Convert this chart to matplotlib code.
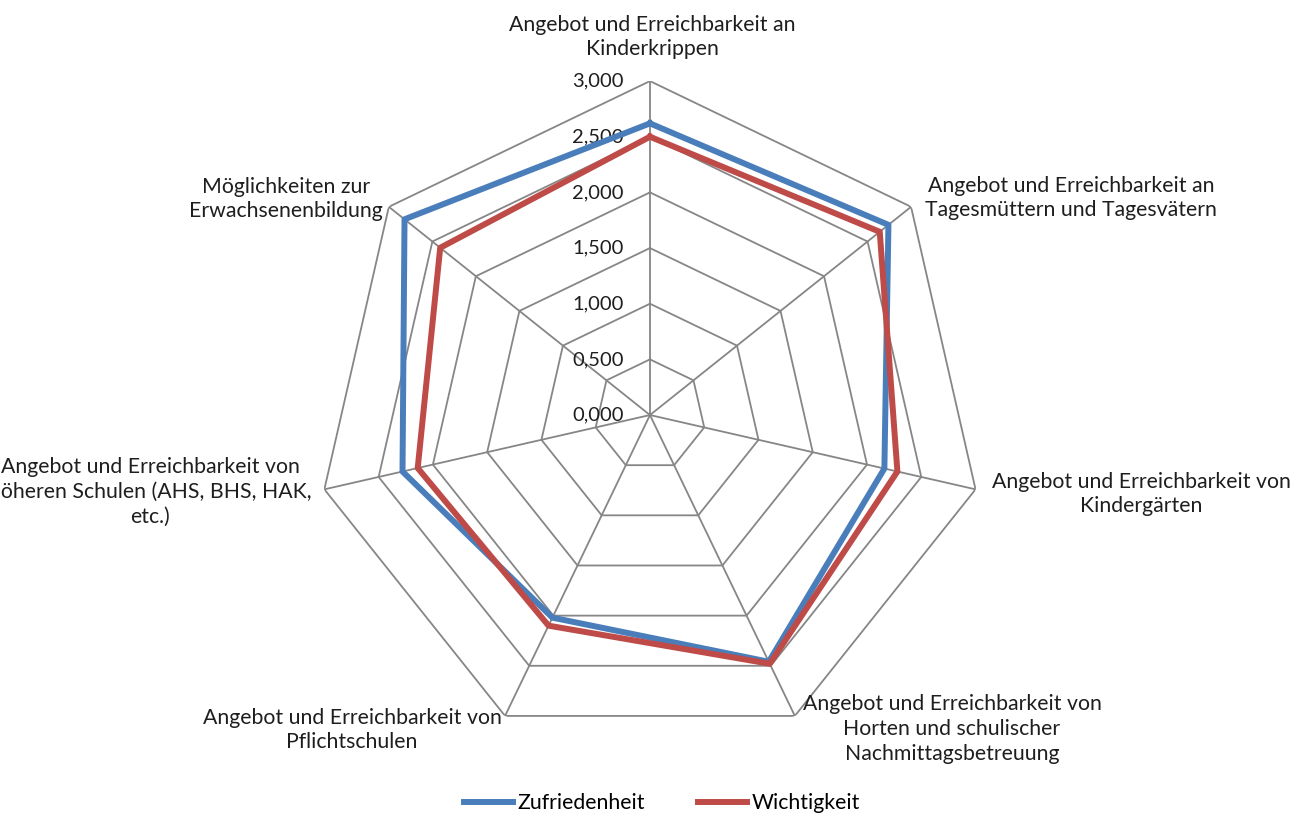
import numpy as np
import matplotlib
matplotlib.use("Agg")
import matplotlib.pyplot as plt
from matplotlib.transforms import offset_copy

# Daten
kategorien = [
    "Angebot und Erreichbarkeit an\nKinderkrippen",
    "Angebot und Erreichbarkeit an\nTagesmüttern und Tagesvätern",
    "Angebot und Erreichbarkeit von\nKindergärten",
    "Angebot und Erreichbarkeit von\nHorten und schulischer\nNachmittagsbetreuung",
    "Angebot und Erreichbarkeit von\nPflichtschulen",
    "Angebot und Erreichbarkeit von\nhöheren Schulen (AHS, BHS, HAK,\netc.)",
    "Möglichkeiten zur\nErwachsenenbildung",
]
zufriedenheit = [2.62, 2.74, 2.16, 2.46, 2.02, 2.28, 2.82]
wichtigkeit = [2.50, 2.64, 2.28, 2.48, 2.10, 2.14, 2.41]
stufen = [0.0, 0.5, 1.0, 1.5, 2.0, 2.5, 3.0]
stufen_txt = ["0,000", "0,500", "1,000", "1,500", "2,000", "2,500", "3,000"]

BLAU = "#4a7ebb"
ROT = "#be4b48"
GRAU = "#868686"
TEXT = "#1e1e1e"
plt.rcParams.update({"font.family": ["Lato", "DejaVu Sans"], "font.size": 15.3})

W, H = 1302, 817
fig = plt.figure(figsize=(W / 100, H / 100), dpi=100)
ax = fig.add_axes([0.2427, 0.083, 0.513, 0.818], projection="polar")
ax.set_theta_offset(np.pi / 2)
ax.set_theta_direction(-1)
ax.set_axis_off()
ax.set_ylim(0, 3)

n = len(kategorien)
winkel = np.linspace(0, 2 * np.pi, n, endpoint=False)
geschl = np.append(winkel, winkel[0])

# Netz
for s in stufen[1:]:
    ax.plot(geschl, [s] * (n + 1), color=GRAU, lw=1.3, zorder=1)
for w in winkel:
    ax.plot([w, w], [0, 3], color=GRAU, lw=1.3, zorder=1)

# Skalenbeschriftung an der oberen Achse
trans = offset_copy(ax.transData, fig=fig, x=-26, y=0, units="dots")
for s, t in zip(stufen, stufen_txt):
    ax.text(0, s, t, transform=trans, ha="right", va="center",
            color=TEXT, fontsize=14.5)

z = np.append(zufriedenheit, zufriedenheit[0])
wi = np.append(wichtigkeit, wichtigkeit[0])
l1, = ax.plot(geschl, z, color=BLAU, lw=4.3, zorder=3, label="Zufriedenheit")
l2, = ax.plot(geschl, wi, color=ROT, lw=4.3, zorder=4, label="Wichtigkeit")

# Kategorienbeschriftung (Pixelpositionen)
pos = [(652, 37), (1071, 198), (1141, 494), (952, 729), (352, 730), (150, 492), (286, 199)]
for txt, (px, py) in zip(kategorien, pos):
    fig.text(px / W, 1 - py / H, txt, ha="center", va="center",
             multialignment="center", color=TEXT, linespacing=1.3)

fig.legend(handles=[l1, l2], loc="center", bbox_to_anchor=(662 / W, 1 - 803 / H),
           ncol=2, frameon=False, handlelength=2.3, handletextpad=0.2,
           columnspacing=2.5)

fig.savefig("out.png", dpi=100)
